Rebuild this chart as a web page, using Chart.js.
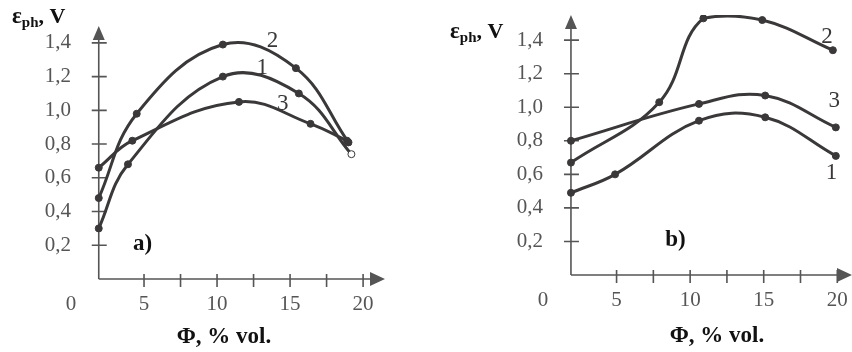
<!DOCTYPE html>
<html>
<head>
<meta charset="utf-8">
<script src="https://cdn.jsdelivr.net/npm/chart.js@4.4.1/dist/chart.umd.min.js"></script>
<style>
  html, body { margin: 0; padding: 0; background: #fff; overflow: hidden; }
  #wrap { position: relative; width: 852px; height: 352px; overflow: hidden; }
  #chart-a { position: absolute; left: 0; top: 0; }
  #chart-b { position: absolute; left: 430px; top: 0; }
</style>
</head>
<body>
<div id="wrap">
  <canvas id="chart-a" width="430" height="352"></canvas>
  <canvas id="chart-b" width="440" height="352"></canvas>
</div>
<script>
// panel a)
const phiA1 = [1.9, 3.9, 10.4, 15.6, 19.2];
const epsA1 = [0.30, 0.68, 1.20, 1.10, 0.74];
const phiA2 = [1.9, 4.5, 10.4, 15.4, 19.0];
const epsA2 = [0.48, 0.98, 1.39, 1.25, 0.81];
const phiA3 = [1.9, 4.2, 11.5, 16.4, 18.9];
const epsA3 = [0.66, 0.82, 1.05, 0.92, 0.82];

// panel b)
const phiB1 = [1.9, 4.9, 10.6, 15.1, 19.9];
const epsB1 = [0.49, 0.60, 0.92, 0.94, 0.71];
const phiB2 = [1.9, 7.9, 10.9, 14.9, 19.7];
const epsB2 = [0.67, 1.03, 1.53, 1.52, 1.34];
const phiB3 = [1.9, 10.6, 15.1, 19.9];
const epsB3 = [0.80, 1.02, 1.07, 0.88];

const curveNames = ['1', '2', '3'];
const xTicks = [0, 2.5, 5, 7.5, 10, 12.5, 15, 17.5, 20];
const xTickLabels = ['0', '5', '10', '15', '20'];
const yTickLabels = ['0,2', '0,4', '0,6', '0,8', '1,0', '1,2', '1,4'];
const yTicks = yTickLabels.map(l => parseFloat(l.replace(',', '.')));

const ink = '#3a3838';
const serif = '"Liberation Serif", "Times New Roman", serif';

function pts(xs, ys) {
  return xs.map((x, i) => ({x: x, y: ys[i]}));
}

function xLabel(v) {
  return xTickLabels.includes(String(v)) ? String(v) : '';
}

function yLabel(v) {
  const i = yTicks.findIndex(t => Math.abs(t - v) < 1e-6);
  return i >= 0 ? yTickLabels[i] : '';
}

const sketch = {
  id: 'sketch',
  beforeDatasetsDraw(chart, args, o) {
    const ctx = chart.ctx;
    const xs = chart.scales.x, ys = chart.scales.y;
    const ox = xs.getPixelForValue(o.axisAt);
    const oy = ys.getPixelForValue(0);
    ctx.save();
    ctx.strokeStyle = '#555';
    ctx.fillStyle = '#555';
    ctx.lineWidth = 1.6;
    ctx.beginPath();
    ctx.moveTo(ox, oy); ctx.lineTo(xs.right - 10, oy);
    ctx.moveTo(ox, oy); ctx.lineTo(ox, ys.top + 10);
    xs.ticks.forEach(t => {
      if (t.value > o.axisAt + 1) {
        const px = xs.getPixelForValue(t.value);
        ctx.moveTo(px, oy - 5); ctx.lineTo(px, oy + 8);
      }
    });
    ys.ticks.forEach(t => {
      const py = ys.getPixelForValue(t.value);
      ctx.moveTo(ox - 7, py); ctx.lineTo(ox + 8, py);
    });
    ctx.stroke();
    ctx.beginPath();
    ctx.moveTo(xs.right, oy); ctx.lineTo(xs.right - 15, oy - 7); ctx.lineTo(xs.right - 15, oy + 7);
    ctx.closePath();
    ctx.moveTo(ox, ys.top); ctx.lineTo(ox - 6, ys.top + 14); ctx.lineTo(ox + 6, ys.top + 14);
    ctx.closePath();
    ctx.fill();
    ctx.restore();
  },
  afterDraw(chart, args, o) {
    const ctx = chart.ctx;
    const xs = chart.scales.x, ys = chart.scales.y;
    ctx.save();
    ctx.fillStyle = ink;
    ctx.textAlign = 'center';
    ctx.textBaseline = 'middle';
    ctx.font = '23px ' + serif;
    o.names.forEach((n, i) => {
      ctx.fillText(n, xs.getPixelForValue(o.nameAt[i][0]), ys.getPixelForValue(o.nameAt[i][1]));
    });
    ctx.fillStyle = '#111';
    ctx.font = 'bold 23px ' + serif;
    ctx.fillText(o.panel, xs.getPixelForValue(o.panelAt[0]), ys.getPixelForValue(o.panelAt[1]));
    ctx.font = 'bold 23px ' + serif;
    ctx.fillText('\u03A6, % vol.', o.xTitle[0], o.xTitle[1]);
    // y title with subscript
    ctx.textAlign = 'left';
    ctx.textBaseline = 'alphabetic';
    let x = o.yTitle[0];
    const y = o.yTitle[1];
    ctx.font = 'bold 23px ' + serif;
    ctx.fillText('\u03B5', x, y);
    x += ctx.measureText('\u03B5').width;
    ctx.font = 'bold 15px ' + serif;
    ctx.fillText('ph', x, y + 4);
    x += ctx.measureText('ph').width;
    ctx.font = 'bold 22px ' + serif;
    ctx.fillText(', V', x, y);
    ctx.restore();
  }
};

function makeChart(id, sets, cfg) {
  const datasets = sets.map(s => ({
    data: s.data,
    borderColor: ink,
    borderWidth: 3,
    backgroundColor: s.fill || ink,
    pointBackgroundColor: s.fill || ink,
    pointBorderColor: ink,
    pointBorderWidth: 1,
    pointRadius: 3.5,
    tension: 0.4
  }));
  return new Chart(document.getElementById(id), {
    type: 'line',
    data: {datasets: datasets},
    options: {
      responsive: false,
      animation: false,
      devicePixelRatio: 1,
      layout: {padding: cfg.padding},
      plugins: {
        legend: {display: false},
        tooltip: {enabled: false},
        sketch: cfg.sketch
      },
      scales: {
        x: {
          type: 'linear', min: 0, max: cfg.xMax,
          grid: {display: false, drawTicks: false}, border: {display: false},
          ticks: {
            autoSkip: false, maxRotation: 0, padding: 13,
            color: '#555', font: {family: serif, size: 21},
            callback: xLabel
          },
          afterBuildTicks: s => { s.ticks = xTicks.map(v => ({value: v})); },
          afterFit: s => { s.height = cfg.xHeight; }
        },
        y: {
          type: 'linear', min: 0, max: cfg.yMax, position: 'left',
          grid: {display: false, drawTicks: false}, border: {display: false},
          ticks: {
            autoSkip: false, padding: 0,
            color: '#555', font: {family: serif, size: 21},
            callback: yLabel
          },
          afterBuildTicks: s => { s.ticks = yTicks.map(v => ({value: v})); },
          afterFit: s => { s.width = 45; }
        }
      }
    },
    plugins: [sketch]
  });
}

makeChart('chart-a', [
  {data: pts(phiA1, epsA1), fill: [ink, ink, ink, ink, '#fff']},
  {data: pts(phiA2, epsA2)},
  {data: pts(phiA3, epsA3)}
], {
  xMax: 21.5, yMax: 1.5, xHeight: 73,
  padding: {left: 26, right: 45, top: 26, bottom: 0},
  sketch: {
    axisAt: 1.9,
    names: curveNames,
    nameAt: [[13.1, 1.25], [13.8, 1.41], [14.5, 1.04]],
    panel: 'a)', panelAt: [4.9, 0.21],
    xTitle: [224, 337], yTitle: [12, 23]
  }
});

makeChart('chart-b', [
  {data: pts(phiB1, epsB1)},
  {data: pts(phiB2, epsB2)},
  {data: pts(phiB3, epsB3)}
], {
  xMax: 21.0, yMax: 1.55, xHeight: 77,
  padding: {left: 68, right: 18, top: 15, bottom: 0},
  sketch: {
    axisAt: 1.9,
    names: curveNames,
    nameAt: [[19.6, 0.61], [19.3, 1.42], [19.8, 1.04]],
    panel: 'b)', panelAt: [9.0, 0.21],
    xTitle: [287, 336], yTitle: [20, 38]
  }
});
</script>
</body>
</html>
